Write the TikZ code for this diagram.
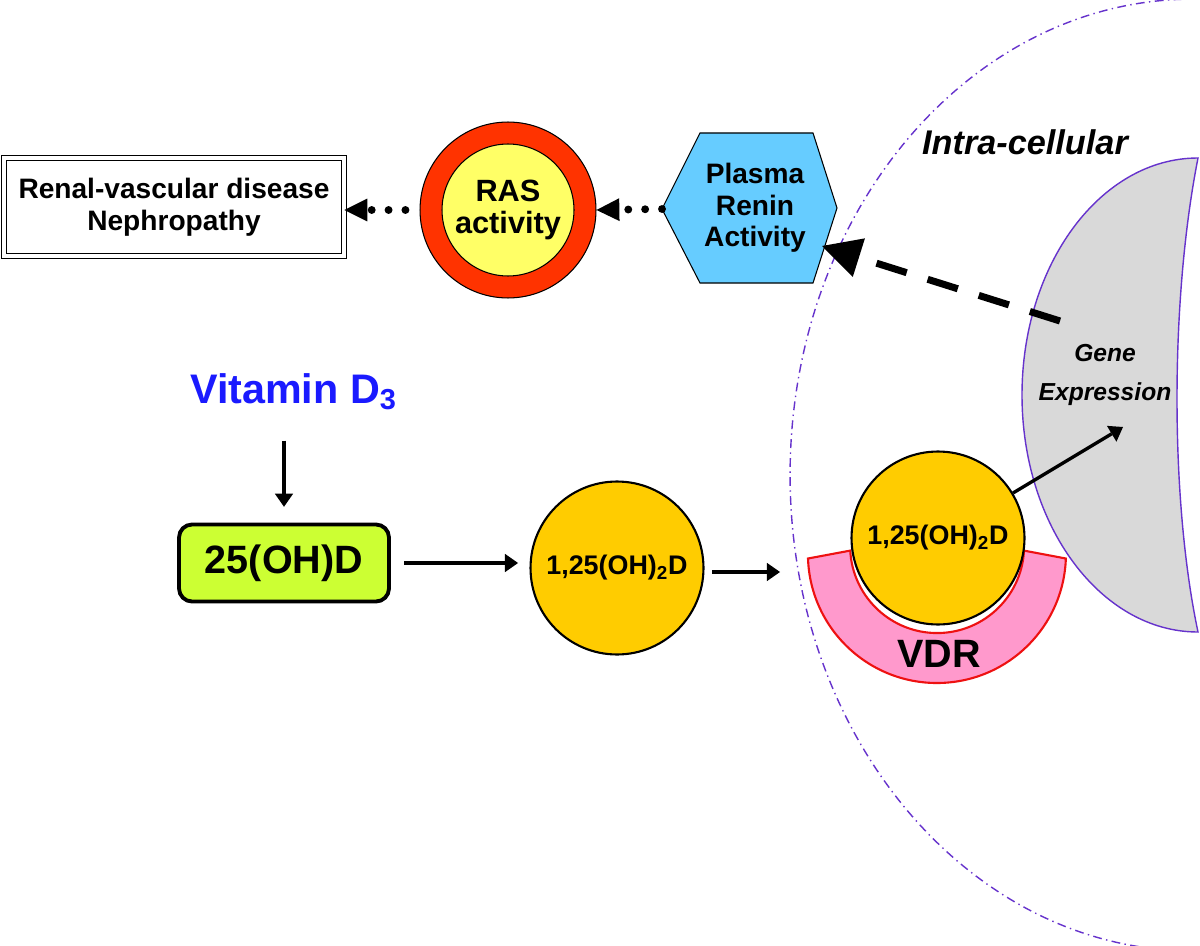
\documentclass[tikz,border=0pt]{standalone}
\usepackage{fontspec}
\setmainfont{Liberation Sans}
\usetikzlibrary{arrows.meta}
\definecolor{rasred}{HTML}{FF3300}
\definecolor{rasyellow}{HTML}{FFFF66}
\definecolor{reninblue}{HTML}{66CCFF}
\definecolor{ohgreen}{HTML}{CCFF33}
\definecolor{dgold}{HTML}{FFCC00}
\definecolor{vdrpink}{HTML}{FF99CC}
\definecolor{vdrred}{HTML}{EE1111}
\definecolor{cellpurple}{HTML}{6633CC}
\definecolor{nucgrey}{HTML}{D9D9D9}
\definecolor{vitblue}{HTML}{1A1AFF}
\tikzset{
  lbl/.style={font=\bfseries\fontsize{16}{18}\selectfont, align=center},
  arr/.style={line width=1.9pt, -{Triangle[length=7.5pt,width=10.5pt,line width=0pt]}},
  dotarr/.style={line width=4.5pt, line cap=round, dash pattern=on 0pt off 9.6pt,
    -{Triangle[length=13pt,width=13pt,line width=0pt]}},
  dasharr/.style={line width=4pt, dash pattern=on 18pt off 12.5pt,
    -{Triangle[length=22pt,width=23pt,line width=0pt]}}
}

\begin{document}
\begin{tikzpicture}[x=0.02cm, y=-0.02cm]
            \tikzstyle{cell}=[cellpurple, line width=0.8pt, dash pattern=on 5pt off 2.5pt on 0.8pt off 2.5pt]
            \tikzstyle{dcirc}=[circle, draw, line width=1.2pt, fill=dgold, minimum size=3.46cm, inner sep=0pt,
                font=\bfseries\fontsize{15.3}{17}\selectfont]
            \useasboundingbox (0,0) rectangle (1200,946);
            \clip (0,0) rectangle (1200,946);

            \draw[cell] (1193,475) ellipse [x radius=8.06cm, y radius=9.52cm];
            \draw[draw=cellpurple, line width=0.8pt, fill=nucgrey] (1198,158)
                arc[start angle=-90, end angle=-270, x radius=176, y radius=237]
                .. controls (1170,500) and (1170,300) .. (1198,158) -- cycle;
            \node[font=\bfseries\itshape\fontsize{19.5}{22}\selectfont] (IC) at (1025,142) {Intra-cellular};

            \draw[fill=reninblue, line width=0.6pt] (662,209) -- (700,133) -- (813,133) -- (837,208)
                -- (813,283) -- (700,283) -- cycle;
            \coordinate (PRA_w) at (662,209);
            \coordinate (PRA_se) at (822,246);
            \node[lbl] (PRA) at (755,208) {Plasma\\Renin\\Activity};

            \node[circle, draw, line width=0.6pt, fill=rasred, minimum size=3.52cm] (RAS) at (508,210) {};
            \node[circle, draw, line width=0.6pt, fill=rasyellow, minimum size=2.64cm, inner sep=0pt,
                lbl, font=\bfseries\fontsize{17.5}{18.5}\selectfont] (RAS_in) at (RAS) {RAS\\activity};

            \node[lbl, draw, double, double distance=2pt, line width=0.6pt, fill=white,
                minimum width=6.8cm, minimum height=1.96cm] (RVD) at (174,207) {Renal-vascular disease\\Nephropathy};

            \draw[dotarr, shorten <=8pt] (RAS.west) -- (RAS.west -| RVD.east);
            \draw[dotarr] (PRA_w) -- (RAS.east);

            \node[anchor=base west, text=vitblue, font=\bfseries\fontsize{23.5}{27}\selectfont] (D_3) at (184,403)
                {Vitamin D\textsubscript{3}};
            \node[draw, line width=2.2pt, rounded corners=0.26cm, fill=ohgreen, minimum width=4.2cm,
                minimum height=1.54cm, font=\bfseries\fontsize{22.5}{26}\selectfont] (D_25) at (284,563) {25(OH)D};
            \draw[arr, shorten <=14pt, shorten >=9pt] (D_3.south -| D_25.north) -- (D_25.north);

            \node[dcirc] (D_125a) at (617,568) {1,25(OH)\textsubscript{2}D};
            \draw[arr, shorten <=7.5pt, shorten >=6.5pt] (D_25.east) -- (D_25.east -| D_125a.west);

            \draw[draw=vdrred, line width=1.2pt, fill=vdrpink] (808,558.5)
                arc[start angle=178, end angle=2, radius=129] -- (1024,550.6)
                arc[start angle=3, end angle=177, radius=87] -- cycle;
            \node[font=\bfseries\fontsize{22.5}{26}\selectfont] (VDR) at (939,654) {VDR};
            \node[dcirc] (D_125b) at (938,538) {1,25(OH)\textsubscript{2}D};

            \coordinate (VDR_in) at (780,572);
            \draw[arr, shorten <=4.5pt] (D_125a.east |- VDR_in) -- (VDR_in);

            \node[font=\bfseries\itshape\fontsize{14}{22.5}\selectfont, align=center] (GE) at (1105,375) {Gene\\Expression};
            \coordinate (GE_in) at (1123,427);
            \draw[arr] (D_125b) -- (GE_in);
            \coordinate (GE_src) at (1060,321);
            \draw[dasharr] (GE_src) -- (PRA_se);
        \end{tikzpicture}
\end{document}
